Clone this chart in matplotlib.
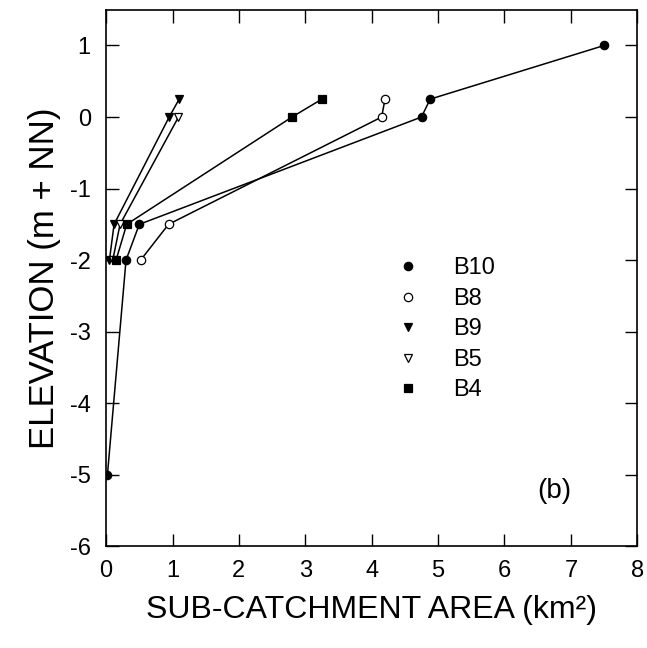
import matplotlib
matplotlib.use('Agg')
import matplotlib.pyplot as plt

plt.rcParams['font.family'] = ['Liberation Sans', 'DejaVu Sans']
plt.rcParams['axes.unicode_minus'] = False

# Sub-catchment area (km2) against elevation (m + NN) for each basin
b10_area = [0.02, 0.3, 0.5, 4.75, 4.88, 7.5]
b10_elev = [-5, -2, -1.5, 0, 0.25, 1]
b8_area = [0.52, 0.94, 4.15, 4.2]
b8_elev = [-2, -1.5, 0, 0.25]
b9_area = [0.05, 0.12, 0.95, 1.1]
b9_elev = [-2, -1.5, 0, 0.25]
b5_area = [0.1, 0.21, 1.09]
b5_elev = [-2, -1.5, 0]
b4_area = [0.15, 0.31, 2.8, 3.25]
b4_elev = [-2, -1.5, 0, 0.25]

fig = plt.figure(figsize=(6.47, 6.48), dpi=100)
ax = fig.add_axes([0.164, 0.157, 0.821, 0.828])

# plot lines first, markers on top
series = [
    ('B10', b10_area, b10_elev, 'o', 'black'),
    ('B8', b8_area, b8_elev, 'o', 'white'),
    ('B9', b9_area, b9_elev, 'v', 'black'),
    ('B5', b5_area, b5_elev, 'v', 'white'),
    ('B4', b4_area, b4_elev, 's', 'black'),
]
for name, x, y, m, fc in series:
    ax.plot(x, y, color='black', lw=1.1, zorder=2)
for name, x, y, m, fc in series:
    ax.plot(x, y, ls='none', marker=m, markersize=6, markerfacecolor=fc,
            markeredgecolor='black', markeredgewidth=0.9, label=name, zorder=3)

ax.set_xlim(0, 8)
ax.set_ylim(-6, 1.5)
ax.set_yticks(range(-6, 2))
ax.set_xticks(range(0, 9))
ax.tick_params(direction='in', length=9, width=1, top=True, right=True,
               labelsize=17)
ax.tick_params(axis='x', pad=10)
ax.tick_params(axis='y', pad=11)
for s in ax.spines.values():
    s.set_linewidth(1.2)

ax.set_xlabel('SUB-CATCHMENT AREA (km²)', fontsize=23, labelpad=9)
ax.set_ylabel('ELEVATION (m + NN)', fontsize=25, labelpad=6)

ax.legend(loc='upper left', bbox_to_anchor=(0.506, 0.578), frameon=False,
          fontsize=17, handletextpad=1.4, labelspacing=0.36,
          handlelength=1.0, borderpad=0.4)

ax.text(6.75, -5.23, '(b)', fontsize=20, ha='center', va='center')

fig.savefig('out.png', dpi=100)
